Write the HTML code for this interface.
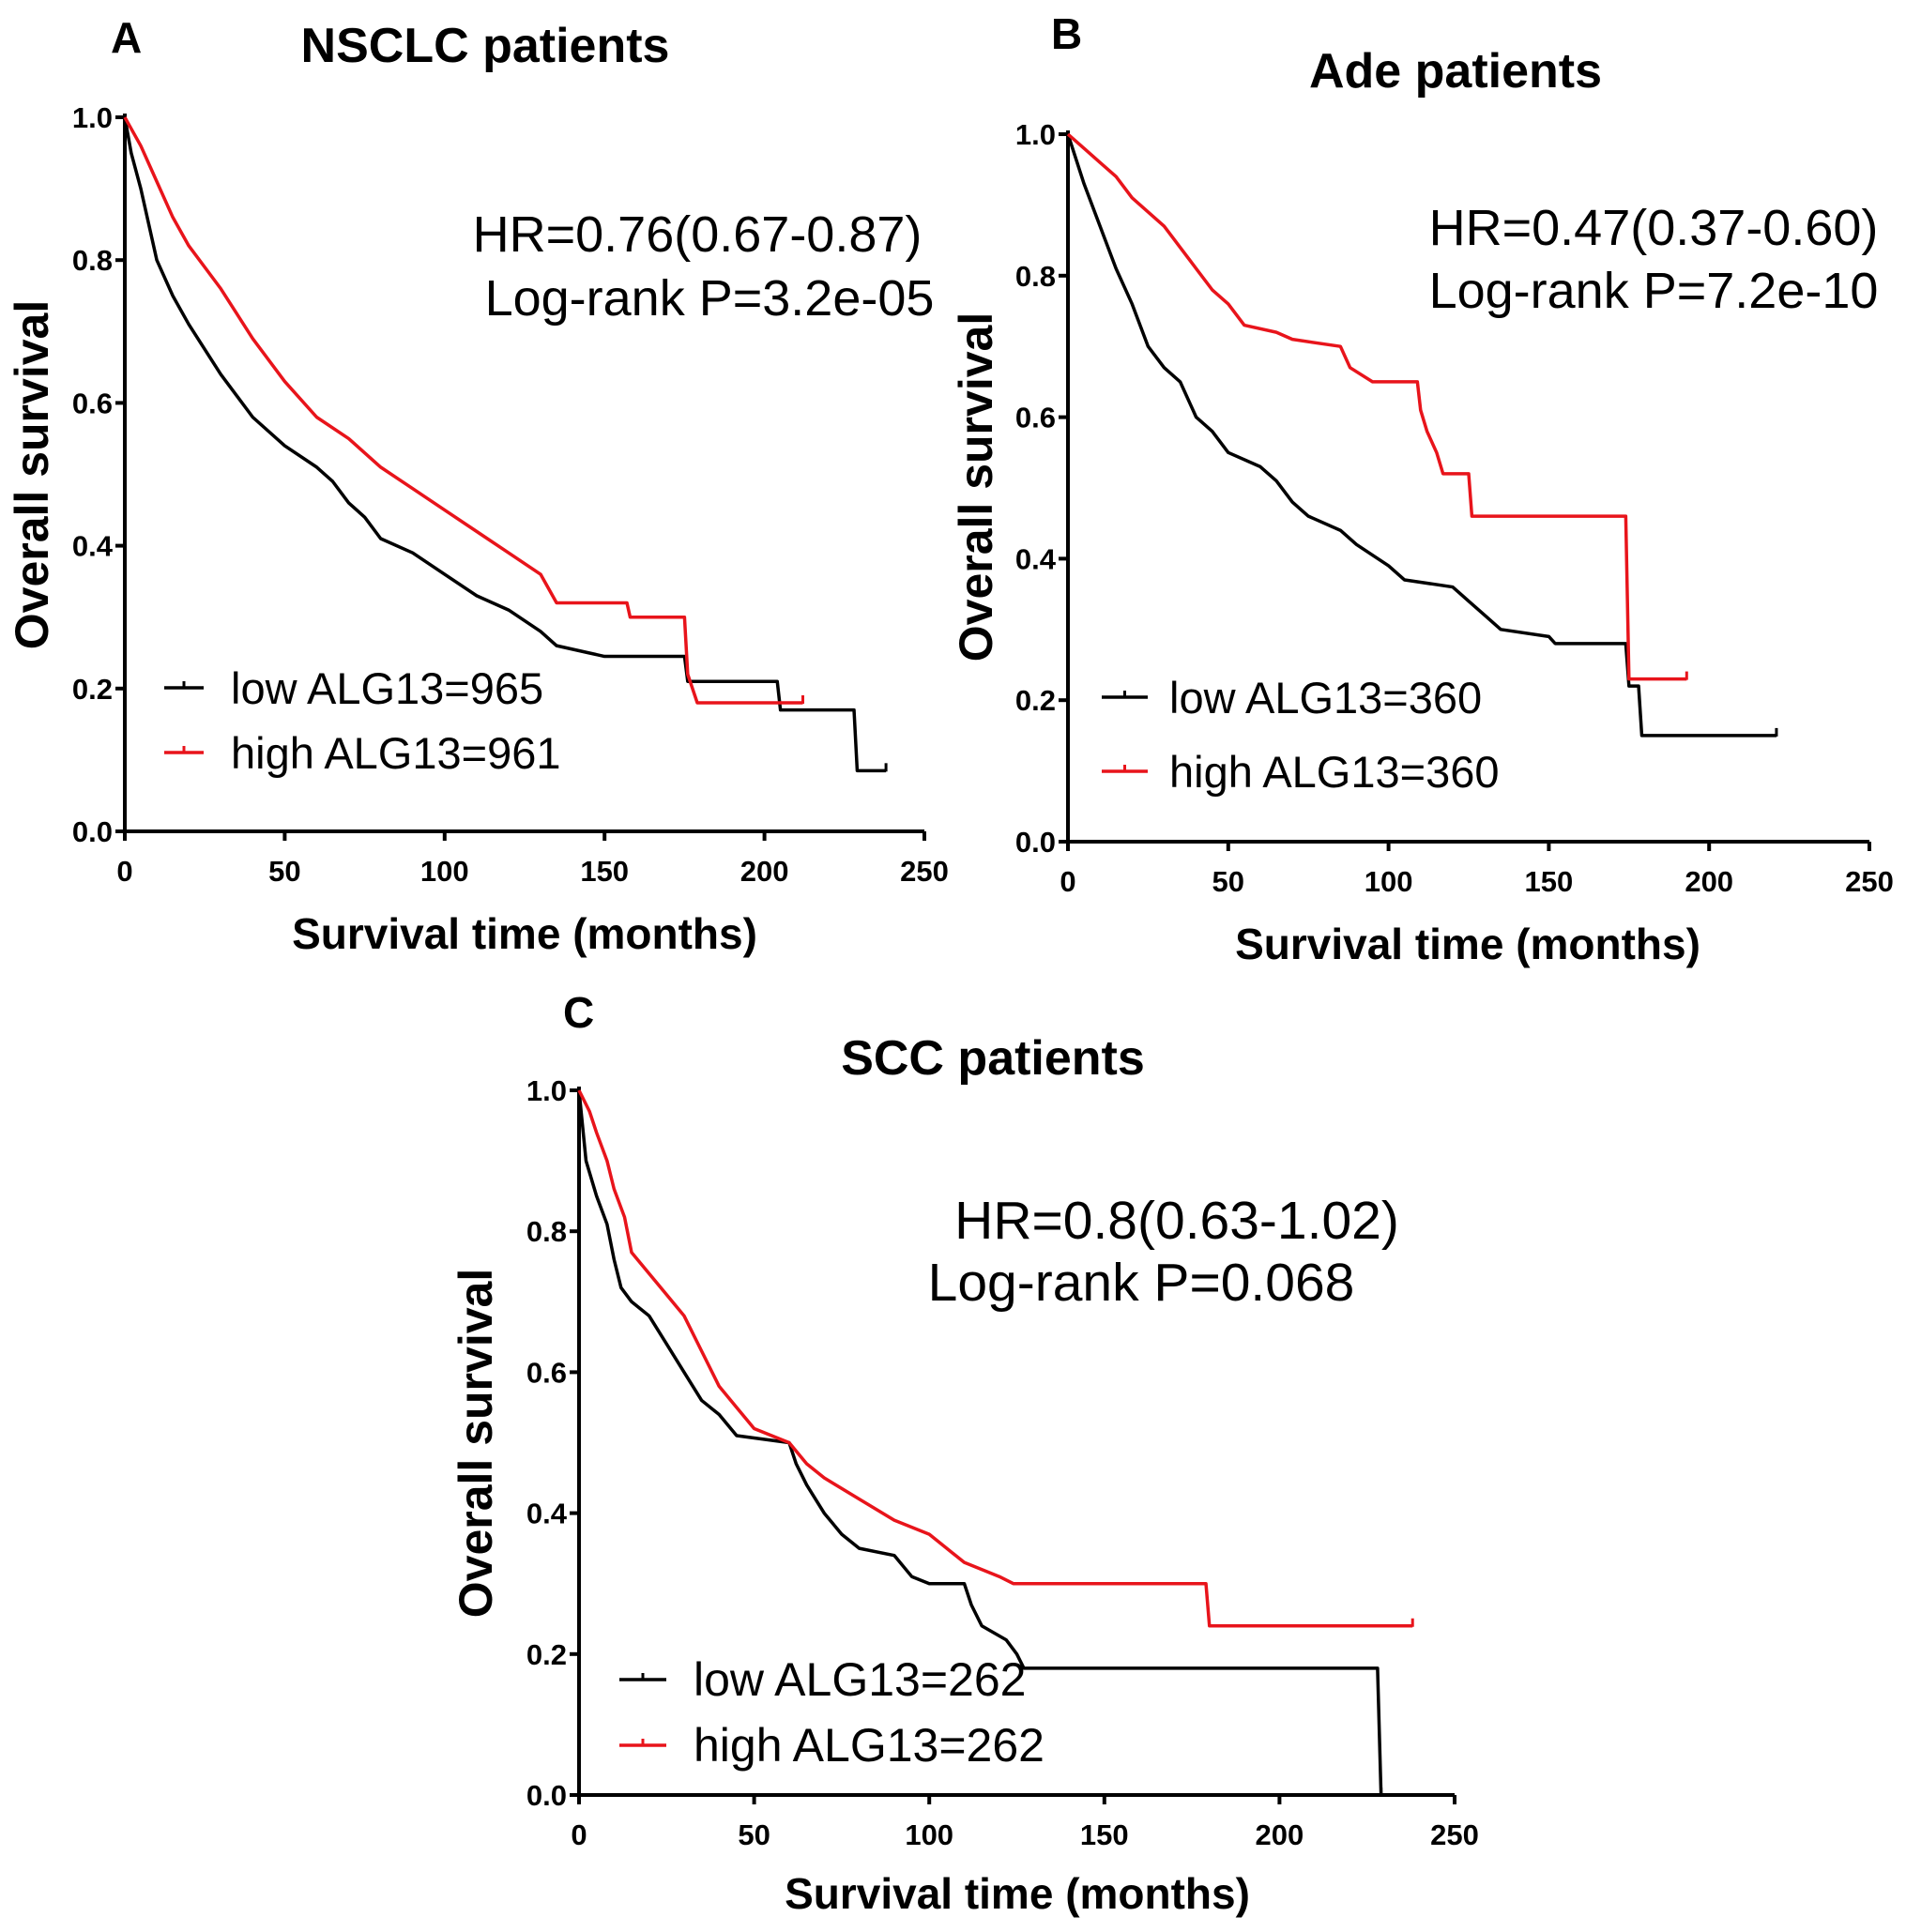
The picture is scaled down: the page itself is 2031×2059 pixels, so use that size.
<!DOCTYPE html>
<html><head><meta charset="utf-8"><style>
html,body{margin:0;padding:0;background:#fff}
svg{display:block}
text{font-family:"Liberation Sans",Arial,sans-serif}
.b{font-weight:bold}
</style></head><body>
<svg id="fig" width="2031" height="2059" viewBox="0 0 2031 2059" xmlns="http://www.w3.org/2000/svg"></svg>
<script>
// Panel A (NSCLC)
const aLowT=[0,2,5,10,15,20,30,40,50,60,65,70,75,80,90,100,110,120,130,135,145,150,175,176,204,205,228,229,238];
const aLowS=[1,0.95,0.9,0.8,0.75,0.71,0.64,0.58,0.54,0.51,0.49,0.46,0.44,0.41,0.39,0.36,0.33,0.31,0.28,0.26,0.25,0.245,0.245,0.21,0.21,0.17,0.17,0.085,0.085];
const aHighT=[0,5,10,15,20,30,40,50,60,70,80,90,100,110,120,130,135,157,158,175,176,179,212];
const aHighS=[1,0.96,0.91,0.86,0.82,0.76,0.69,0.63,0.58,0.55,0.51,0.48,0.45,0.42,0.39,0.36,0.32,0.32,0.30,0.30,0.22,0.18,0.18];
// Panel B (Ade)
const bLowT=[0,5,10,15,20,25,30,35,40,45,50,60,65,70,75,85,90,100,105,120,125,130,135,150,152,174,175,178,179,221];
const bLowS=[1,0.93,0.87,0.81,0.76,0.70,0.67,0.65,0.60,0.58,0.55,0.53,0.51,0.48,0.46,0.44,0.42,0.39,0.37,0.36,0.34,0.32,0.30,0.29,0.28,0.28,0.22,0.22,0.15,0.15];
const bHighT=[0,5,10,15,20,25,30,35,40,45,50,55,65,70,85,88,95,109,110,112,115,117,125,126,174,175,193];
const bHighS=[1,0.98,0.96,0.94,0.91,0.89,0.87,0.84,0.81,0.78,0.76,0.73,0.72,0.71,0.70,0.67,0.65,0.65,0.61,0.58,0.55,0.52,0.52,0.46,0.46,0.23,0.23];
// Panel C (SCC)
const cLowT=[0,2,5,8,10,12,15,20,25,30,35,40,45,60,62,65,70,75,80,90,95,100,110,112,115,122,125,127,228,229];
const cLowS=[1,0.9,0.85,0.81,0.76,0.72,0.70,0.68,0.64,0.60,0.56,0.54,0.51,0.50,0.47,0.44,0.40,0.37,0.35,0.34,0.31,0.30,0.30,0.27,0.24,0.22,0.20,0.18,0.18,0];
const cHighT=[0,3,5,8,10,13,15,20,25,30,35,40,45,50,55,60,65,70,80,90,100,110,120,124,179,180,238];
const cHighS=[1,0.97,0.94,0.90,0.86,0.82,0.77,0.74,0.71,0.68,0.63,0.58,0.55,0.52,0.51,0.50,0.47,0.45,0.42,0.39,0.37,0.33,0.31,0.30,0.30,0.24,0.24];
const xTicks=[0,50,100,150,200,250];
const yTicks=[0,0.2,0.4,0.6,0.8,1.0];

const NS="http://www.w3.org/2000/svg";
const svg=document.getElementById('fig');
function mk(tag,attrs,parent,txt){const e=document.createElementNS(NS,tag);for(const k in attrs)e.setAttribute(k,attrs[k]);if(txt!==undefined)e.textContent=txt;(parent||svg).appendChild(e);return e;}

function panel(p){
  const g=mk('g',{});
  
  
  const sx=v=>p.x0+(p.x1-p.x0)*v/250;
  const sy=v=>p.y0+(p.y1-p.y0)*v;
  let ax=mk('path',{d:`M${p.x0},${p.y1-4}V${p.y0}H${p.x1}`,fill:'none',stroke:'#000','stroke-width':4},g);
  
  
  yTicks.forEach(v=>{
    mk('line',{x1:p.x0-10,x2:p.x0,y1:sy(v),y2:sy(v),stroke:'#000','stroke-width':4},g);
    const t=mk('text',{x:p.x0-13,y:sy(v)+11,'text-anchor':'end','font-size':31,class:'b'},g,v.toFixed(1));
    
    
  });
  xTicks.forEach(v=>{
    mk('line',{x1:sx(v),x2:sx(v),y1:p.y0,y2:p.y0+10,stroke:'#000','stroke-width':4},g);
    const t=mk('text',{x:sx(v),y:p.y0+53,'text-anchor':'middle','font-size':31,class:'b'},g,String(v));
    
    
  });
  [[p.lowT,p.lowS,'#000','low'],[p.highT,p.highS,'#e8141b','high']].forEach(([T,S,c,n])=>{
    let d=`M${sx(T[0])},${sy(S[0])}`;
    for(let i=1;i<T.length;i++){d+=`L${sx(T[i])},${sy(S[i])}`;}
    const l=mk('path',{d:d,fill:'none',stroke:c,'stroke-width':3.5,'stroke-linejoin':'round'},g);
    
    
    mk('line',{x1:sx(T[T.length-1]),x2:sx(T[T.length-1]),y1:sy(S[S.length-1])-8,y2:sy(S[S.length-1])+1,stroke:c,'stroke-width':3},g);
  });
  let t;
  t=mk('text',{x:p.letter[0],y:p.letter[1],'font-size':46,class:'b'},g,p.id.toUpperCase());
  
  
  t=mk('text',{x:p.title[0],y:p.title[1],'text-anchor':'middle','font-size':52,class:'b'},g,p.titleText);
  
  
  t=mk('text',{x:p.hr[0],y:p.hr[1],'text-anchor':'middle','font-size':p.fs},g,p.hrText);
  
  
  t=mk('text',{x:p.lr[0],y:p.lr[1],'text-anchor':'middle','font-size':p.fs},g,p.lrText);
  
  
  t=mk('text',{x:p.xt[0],y:p.xt[1],'text-anchor':'middle','font-size':46,class:'b'},g,'Survival time (months)');
  
  
  t=mk('text',{x:0,y:0,'text-anchor':'middle','font-size':50,class:'b',transform:`translate(${p.yt[0]},${p.yt[1]}) rotate(-90)`},g,'Overall survival');
  
  
  [['low',p.lg[2],'#000',p.lowLabel],['high',p.lg[3],'#e8141b',p.highLabel]].forEach(([n,y,c,lab])=>{
    const le=mk('g',{},g);
    
    
    mk('line',{x1:p.lg[0],x2:p.lg[1],y1:y,y2:y,stroke:c,'stroke-width':3.5},le);
    mk('line',{x1:(p.lg[0]+p.lg[1])/2,x2:(p.lg[0]+p.lg[1])/2,y1:y-7,y2:y,stroke:c,'stroke-width':3},le);
    mk('text',{x:p.lg[4],y:y+17,'font-size':p.lfs},le,lab);
  });
}

panel({id:'a',x0:133,x1:985,y0:886,y1:125,lowT:aLowT,lowS:aLowS,highT:aHighT,highS:aHighS,fs:54,lfs:47,
  letter:[118,56],title:[517,66],titleText:'NSCLC patients',hr:[743,268],hrText:'HR=0.76(0.67-0.87)',lr:[756,336],lrText:'Log-rank P=3.2e-05',
  xt:[559,1011],yt:[51,506],lg:[175,217,733,802,246],lowLabel:'low ALG13=965',highLabel:'high ALG13=961'});
panel({id:'b',x0:1138,x1:1992,y0:897,y1:143,lowT:bLowT,lowS:bLowS,highT:bHighT,highS:bHighS,fs:54,lfs:47,
  letter:[1120,52],title:[1551,93],titleText:'Ade  patients',hr:[1762,261],hrText:'HR=0.47(0.37-0.60)',lr:[1762,328],lrText:'Log-rank P=7.2e-10',
  xt:[1564,1022],yt:[1057,519],lg:[1174,1223,743,822,1246],lowLabel:'low ALG13=360',highLabel:'high ALG13=360'});
panel({id:'c',x0:617,x1:1550,y0:1913,y1:1162,lowT:cLowT,lowS:cLowS,highT:cHighT,highS:cHighS,fs:57,lfs:50,
  letter:[600,1095],title:[1058,1145],titleText:'SCC  patients',hr:[1254,1320],hrText:'HR=0.8(0.63-1.02)',lr:[1216,1386],lrText:'Log-rank P=0.068',
  xt:[1084,2034],yt:[524,1538],lg:[660,710,1790,1860,739],lowLabel:'low ALG13=262',highLabel:'high ALG13=262'});
</script>
</body></html>
